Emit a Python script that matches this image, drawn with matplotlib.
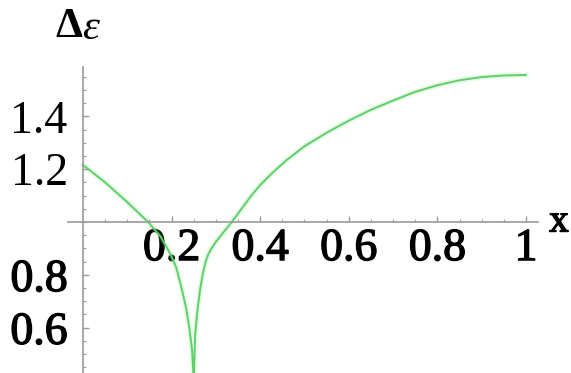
import numpy as np
import matplotlib.pyplot as plt
import matplotlib.patheffects as pe

# sampled curve  (x, delta epsilon)
x = [0.0, 0.05, 0.10, 0.147, 0.175, 0.196, 0.210, 0.221, 0.232, 0.240,
     0.246, 0.250,
     0.253, 0.258, 0.264, 0.270, 0.276, 0.282, 0.290, 0.300, 0.318, 0.336,
     0.36, 0.38, 0.40, 0.43, 0.46, 0.50, 0.55, 0.60, 0.65, 0.70, 0.75,
     0.80, 0.85, 0.90, 0.95, 1.0]
de = [1.216, 1.15, 1.075, 1.0, 0.945, 0.883, 0.83, 0.76, 0.68, 0.60,
      0.52, 0.40,
      0.57, 0.66, 0.74, 0.80, 0.845, 0.875, 0.90, 0.925, 0.963, 1.0,
      1.055, 1.10, 1.14, 1.19, 1.235, 1.287, 1.338, 1.384, 1.425, 1.46, 1.493,
      1.518, 1.537, 1.549, 1.555, 1.557]

xticks = [0.2, 0.4, 0.6, 0.8, 1.0]
xlabels = ['0.2', '0.4', '0.6', '0.8', '1']
yticks = [0.6, 0.8, 1.2, 1.4]
ylabels = ['0.6', '0.8', '1.2', '1.4']

plt.rcParams['font.family'] = ['Liberation Serif', 'DejaVu Serif']

fig = plt.figure(figsize=(5.71, 3.73), dpi=100)
ax = fig.add_axes([0, 0, 1, 1])
ax.set_xlim(-83 / 443.0, 488 / 443.0)
ax.set_ylim(1 - 151 / 264.0, 1 + 222 / 264.0)

# soft halo then the line itself
ax.plot(x, de, color='#7ee07e', lw=4, alpha=0.18, solid_joinstyle='round')
ax.plot(x, de, color='#5fcf6a', lw=1.4, solid_joinstyle='round')

axcol = '#9a9a9a'
ax.spines['top'].set_visible(False)
ax.spines['right'].set_visible(False)
ax.spines['left'].set_position(('data', 0))
ax.spines['bottom'].set_position(('data', 1))
ax.spines['left'].set_bounds(0.41, 1.587)
ax.spines['bottom'].set_bounds(-0.034, 1.027)
for s in ('left', 'bottom'):
    ax.spines[s].set_color(axcol)
    ax.spines[s].set_linewidth(1.2)

ax.set_xticks(xticks, xlabels)
ax.set_yticks(yticks, ylabels)
ax.set_xticks(np.arange(0.05, 1.03, 0.05), minor=True)
ax.set_yticks(np.arange(0.45, 1.59, 0.05), minor=True)
ax.tick_params(which='major', direction='in', length=4, width=1, color=axcol,
               labelsize=33)
ax.tick_params(which='minor', direction='in', length=2, width=0.8, color=axcol)
ax.tick_params(axis='x', pad=4)
ax.tick_params(axis='y', pad=11)

# the lower labels print a little heavier
heavy = [pe.withStroke(linewidth=1.0, foreground='black')]
for t in ax.get_xticklabels():
    t.set_path_effects(heavy)
for t in ax.get_yticklabels():
    if t.get_text().startswith('0'):
        t.set_path_effects(heavy)

# axis names
ax.text(559, 373 - 222, 'x', transform=None, fontsize=28,
        ha='center', va='center', path_effects=heavy)
ax.text(82, 373 - 27, 'Δ', transform=None, fontsize=31, fontweight='bold',
        ha='right', va='center')
ax.text(82, 373 - 29, 'ε', transform=None, fontsize=31, fontstyle='italic',
        ha='left', va='center')

fig.savefig('out.png', dpi=100)
